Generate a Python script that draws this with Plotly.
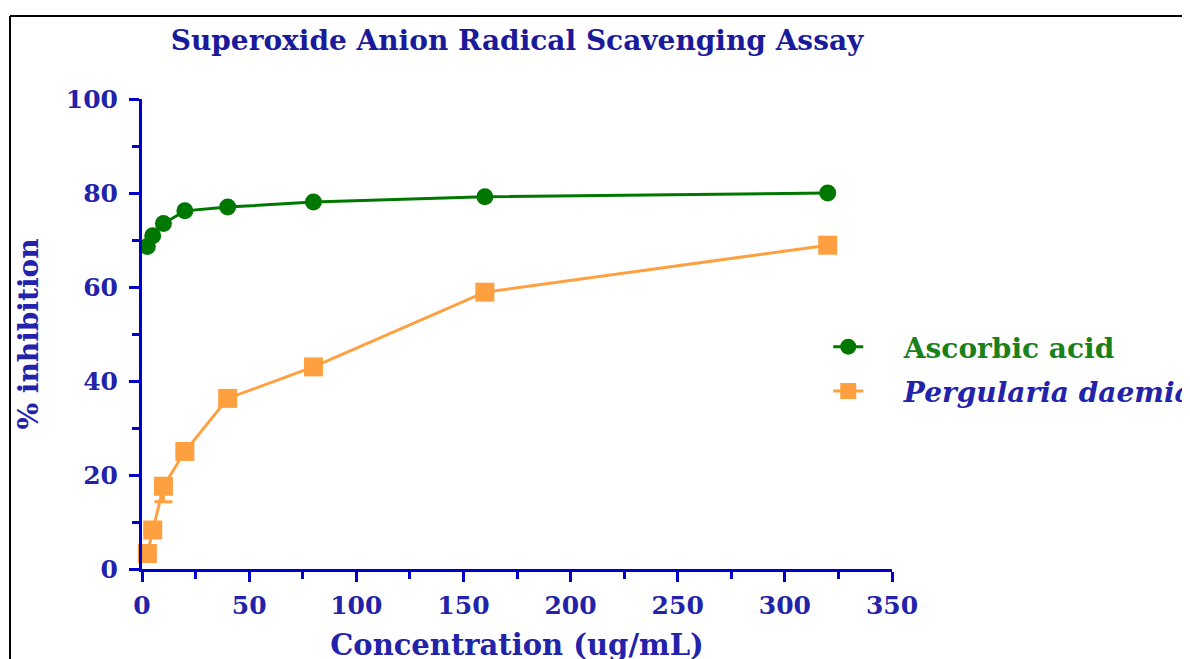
import plotly.graph_objects as go

# ---- data ----
concentration = [2.5, 5, 10, 20, 40, 80, 160, 320]
ascorbic_acid = [68.6, 70.9, 73.5, 76.2, 77.0, 78.1, 79.2, 80.0]
pergularia = [3.3, 8.3, 17.6, 25.0, 36.3, 43.0, 58.9, 68.9]
pergularia_err_minus = [0.5, 0.8, 3.3, 0.9, 0.8, 0.6, 0.8, 0.6]
pergularia_err_plus = [0.0, 0.0, 0.0, 0.0, 0.0, 0.0, 0.0, 0.0]

x_ticks = [0, 50, 100, 150, 200, 250, 300, 350]
y_ticks = [0, 20, 40, 60, 80, 100]

title_text = "Superoxide Anion Radical Scavenging Assay"
x_title = "Concentration (ug/mL)"
y_title = "% inhibition"
series_names = ["Ascorbic acid", "Pergularia daemia"]

GREEN = "#007800"
ORANGE = "#ffa040"
AXIS_BLUE = "#0000c8"
TEXT_BLUE = "#2222aa"
FONT = "DejaVu Serif"

# the page body adds an 8 px offset; layout below compensates for it
OFF = 8
L, T, PW, PH = 142 - OFF, 99 - OFF, 750, 470
GAP = "&nbsp;" * 4

fig = go.Figure()
fig.add_trace(go.Scatter(
    x=concentration, y=ascorbic_acid, mode="lines+markers",
    name=f"{GAP}<span style='color:#1a801a'><b>{series_names[0]}</b></span>",
    legendgroup="a",
    line=dict(color=GREEN, width=3),
    marker=dict(symbol="circle", size=17, color=GREEN),
    cliponaxis=False,
))
fig.add_trace(go.Scatter(
    x=concentration, y=pergularia, mode="lines+markers",
    name=f"{GAP}<span style='color:#2222aa'><b><i>{series_names[1]}</i></b></span>",
    legendgroup="b",
    line=dict(color=ORANGE, width=3),
    marker=dict(symbol="square", size=19, color=ORANGE),
    error_y=dict(type="data", symmetric=False, array=pergularia_err_plus,
                 arrayminus=pergularia_err_minus, visible=True,
                 color=ORANGE, thickness=3, width=9),
    cliponaxis=False,
))

axis_common = dict(
    showline=True, linecolor=AXIS_BLUE, linewidth=3,
    ticks="outside", ticklen=10, tickwidth=3, tickcolor=AXIS_BLUE,
    showgrid=False, zeroline=False,
    tickfont=dict(family=FONT, size=25, color=TEXT_BLUE, weight="bold"),
)

fig.update_layout(
    width=1190, height=659,
    margin=dict(l=L, r=1190 - L - PW, t=T, b=659 - T - PH, autoexpand=False),
    paper_bgcolor="white", plot_bgcolor="white",
    title=dict(text=title_text, x=0.5, xref="paper", xanchor="center",
               y=1 - (40 - OFF) / 659, yanchor="middle",
               font=dict(family=FONT, size=28, color="#1a1a9a", weight="bold")),
    xaxis=dict(range=[0, 350], tickvals=x_ticks, ticklabelstandoff=2,
               minor=dict(ticks="outside", ticklen=7, tickwidth=3,
                          tickcolor=AXIS_BLUE, dtick=25),
               title=dict(text=x_title, standoff=16,
                          font=dict(family=FONT, size=29, color=TEXT_BLUE, weight="bold")),
               **axis_common),
    yaxis=dict(range=[0, 100], tickvals=y_ticks, ticklabelstandoff=6,
               minor=dict(ticks="outside", ticklen=7, tickwidth=3,
                          tickcolor=AXIS_BLUE, dtick=10),
               title=dict(text=y_title, standoff=20,
                          font=dict(family=FONT, size=28, color=TEXT_BLUE, weight="bold")),
               **axis_common),
    legend=dict(x=0.915, y=(569 - 369) / 470, xanchor="left", yanchor="middle",
                font=dict(family=FONT, size=28),
                bgcolor="rgba(0,0,0,0)", tracegroupgap=5),
    showlegend=True,
)

# outer frame (black border, top and left)
fy_top = (569 - 16) / PH
fx_left = (10 - 142) / PW
fig.add_shape(type="line", xref="paper", yref="paper",
              x0=fx_left, x1=(1200 - 142) / PW, y0=fy_top, y1=fy_top,
              line=dict(color="black", width=2))
fig.add_shape(type="line", xref="paper", yref="paper",
              x0=fx_left, x1=fx_left, y0=fy_top, y1=(569 - 680) / PH,
              line=dict(color="black", width=2))

fig.write_html("out.html")
